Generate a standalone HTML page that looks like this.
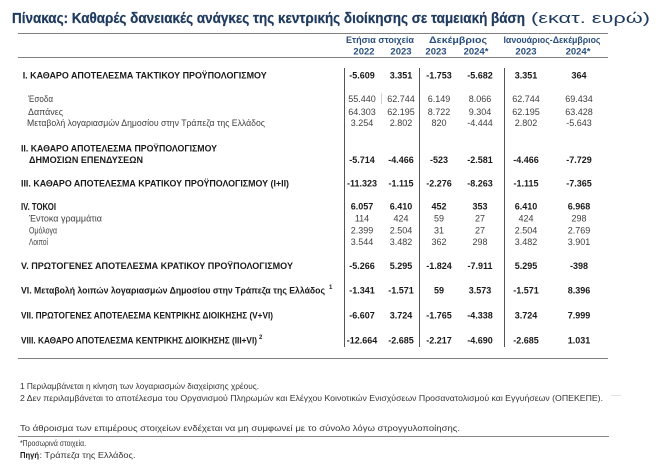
<!DOCTYPE html>
<html>
<head>
<meta charset="utf-8">
<style>
html,body{margin:0;padding:0;background:#fff;}
svg{display:block;}
</style>
</head>
<body>
<svg width="656" height="469" viewBox="0 0 656 469" xmlns="http://www.w3.org/2000/svg" font-family="'Liberation Sans', 'Noto Sans CJK SC', sans-serif">
<rect width="656" height="469" fill="#fff"/>

<!-- Title -->
<text x="12" y="23" font-size="14.5" font-weight="bold" fill="#1f3a5f" stroke="#1f3a5f" stroke-width="0.25" textLength="513" lengthAdjust="spacingAndGlyphs">Πίνακας: Καθαρές δανειακές ανάγκες της κεντρικής διοίκησης σε ταμειακή βάση</text>
<text x="531" y="23" font-size="14.5" fill="#1f3a5f" textLength="119" lengthAdjust="spacingAndGlyphs">(εκατ. ευρώ)</text>

<!-- Horizontal rules -->
<line x1="18" y1="33.5" x2="608" y2="33.5" stroke="#7f7f7f" stroke-width="1"/>
<line x1="18" y1="57.5" x2="608" y2="57.5" stroke="#7f7f7f" stroke-width="1"/>
<line x1="18" y1="358.5" x2="608" y2="358.5" stroke="#7f7f7f" stroke-width="1"/>

<!-- Header -->
<g font-size="9.5" font-weight="bold" fill="#2a4f7e" text-anchor="middle">
  <text x="380" y="43" textLength="68" lengthAdjust="spacingAndGlyphs">Ετήσια στοιχεία</text>
  <text x="458" y="43" textLength="58" lengthAdjust="spacingAndGlyphs">Δεκέμβριος</text>
  <text x="552" y="43" textLength="97" lengthAdjust="spacingAndGlyphs">Ιανουάριος-Δεκέμβριος</text>
  <text x="364" y="54.5">2022</text>
  <text x="401" y="54.5">2023</text>
  <text x="436" y="54.5">2023</text>
  <text x="476" y="54.5">2024*</text>
  <text x="526" y="54.5">2023</text>
  <text x="578" y="54.5">2024*</text>
</g>

<!-- Vertical separators -->
<line x1="344.5" y1="68" x2="344.5" y2="347" stroke="#555" stroke-width="1"/>
<line x1="419.5" y1="68" x2="419.5" y2="347" stroke="#555" stroke-width="1"/>
<line x1="504.5" y1="68" x2="504.5" y2="347" stroke="#555" stroke-width="1"/>
<line x1="381.5" y1="93" x2="381.5" y2="104" stroke="#d0d0d0" stroke-width="1"/>

<!-- Labels bold -->
<g font-size="9" font-weight="bold" fill="#1a1a1a">
  <text x="22.7" y="78.3" textLength="244" lengthAdjust="spacingAndGlyphs">I. ΚΑΘΑΡΟ ΑΠΟΤΕΛΕΣΜΑ  ΤΑΚΤΙΚΟΥ ΠΡΟΫΠΟΛΟΓΙΣΜΟΥ</text>
  <text x="21" y="151.5" textLength="196" lengthAdjust="spacingAndGlyphs">II. ΚΑΘΑΡΟ ΑΠΟΤΕΛΕΣΜΑ ΠΡΟΫΠΟΛΟΓΙΣΜΟΥ</text>
  <text x="29" y="163" textLength="114" lengthAdjust="spacingAndGlyphs">ΔΗΜΟΣΙΩΝ ΕΠΕΝΔΥΣΕΩΝ</text>
  <text x="21" y="186.5" textLength="268" lengthAdjust="spacingAndGlyphs">III. ΚΑΘΑΡΟ ΑΠΟΤΕΛΕΣΜΑ ΚΡΑΤΙΚΟΥ ΠΡΟΫΠΟΛΟΓΙΣΜΟΥ (I+II)</text>
  <text x="21" y="209.8" font-size="10" textLength="35" lengthAdjust="spacingAndGlyphs">IV. ΤΟΚΟΙ</text>
  <text x="21" y="269" textLength="272" lengthAdjust="spacingAndGlyphs">V. ΠΡΩΤΟΓΕΝΕΣ ΑΠΟΤΕΛΕΣΜΑ  ΚΡΑΤΙΚΟΥ ΠΡΟΫΠΟΛΟΓΙΣΜΟΥ</text>
  <text x="21" y="293.5" textLength="304" lengthAdjust="spacingAndGlyphs">VI. Μεταβολή λοιπών λογαριασμών Δημοσίου στην Τράπεζα της Ελλάδος</text>
  <text x="329" y="289" font-size="6">1</text>
  <text x="21" y="318.5" textLength="252" lengthAdjust="spacingAndGlyphs">VII. ΠΡΩΤΟΓΕΝΕΣ ΑΠΟΤΕΛΕΣΜΑ ΚΕΝΤΡΙΚΗΣ ΔΙΟΙΚΗΣΗΣ (V+VI)</text>
  <text x="21" y="343.5" textLength="236" lengthAdjust="spacingAndGlyphs">VIII. ΚΑΘΑΡΟ ΑΠΟΤΕΛΕΣΜΑ ΚΕΝΤΡΙΚΗΣ ΔΙΟΙΚΗΣΗΣ (III+VI)</text>
  <text x="259" y="339" font-size="6">2</text>
</g>

<!-- Labels normal -->
<g font-size="9" fill="#404040">
  <text x="28" y="102" textLength="25" lengthAdjust="spacingAndGlyphs">Έσοδα</text>
  <text x="28" y="115" textLength="35" lengthAdjust="spacingAndGlyphs">Δαπάνες</text>
  <text x="27" y="126" textLength="238" lengthAdjust="spacingAndGlyphs">Μεταβολή λογαριασμών Δημοσίου στην Τράπεζα της Ελλάδος</text>
  <text x="29" y="221.5" textLength="73" lengthAdjust="spacingAndGlyphs">Έντοκα γραμμάτια</text>
  <text x="29" y="233.5" textLength="28" lengthAdjust="spacingAndGlyphs">Ομόλογα</text>
  <text x="29" y="245" textLength="19" lengthAdjust="spacingAndGlyphs">Λοιποί</text>
</g>

<!-- Bold values -->
<g font-size="9" font-weight="bold" fill="#1a1a1a" text-anchor="middle">
  <text x="362" y="78.3">-5.609</text><text x="401" y="78.3">3.351</text><text x="439" y="78.3">-1.753</text><text x="480" y="78.3">-5.682</text><text x="526" y="78.3">3.351</text><text x="579" y="78.3">364</text>
  <text x="362" y="163">-5.714</text><text x="401" y="163">-4.466</text><text x="439" y="163">-523</text><text x="480" y="163">-2.581</text><text x="526" y="163">-4.466</text><text x="579" y="163">-7.729</text>
  <text x="362" y="186.5">-11.323</text><text x="401" y="186.5">-1.115</text><text x="439" y="186.5">-2.276</text><text x="480" y="186.5">-8.263</text><text x="526" y="186.5">-1.115</text><text x="579" y="186.5">-7.365</text>
  <text x="362" y="209.5">6.057</text><text x="401" y="209.5">6.410</text><text x="439" y="209.5">452</text><text x="480" y="209.5">353</text><text x="526" y="209.5">6.410</text><text x="579" y="209.5">6.968</text>
  <text x="362" y="269">-5.266</text><text x="401" y="269">5.295</text><text x="439" y="269">-1.824</text><text x="480" y="269">-7.911</text><text x="526" y="269">5.295</text><text x="579" y="269">-398</text>
  <text x="362" y="293.5">-1.341</text><text x="401" y="293.5">-1.571</text><text x="439" y="293.5">59</text><text x="480" y="293.5">3.573</text><text x="526" y="293.5">-1.571</text><text x="579" y="293.5">8.396</text>
  <text x="362" y="318.5">-6.607</text><text x="401" y="318.5">3.724</text><text x="439" y="318.5">-1.765</text><text x="480" y="318.5">-4.338</text><text x="526" y="318.5">3.724</text><text x="579" y="318.5">7.999</text>
  <text x="362" y="343.5">-12.664</text><text x="401" y="343.5">-2.685</text><text x="439" y="343.5">-2.217</text><text x="480" y="343.5">-4.690</text><text x="526" y="343.5">-2.685</text><text x="579" y="343.5">1.031</text>
</g>

<!-- Normal values -->
<g font-size="9" fill="#404040" text-anchor="middle">
  <text x="362" y="102">55.440</text><text x="401" y="102">62.744</text><text x="439" y="102">6.149</text><text x="480" y="102">8.066</text><text x="526" y="102">62.744</text><text x="579" y="102">69.434</text>
  <text x="362" y="115">64.303</text><text x="401" y="115">62.195</text><text x="439" y="115">8.722</text><text x="480" y="115">9.304</text><text x="526" y="115">62.195</text><text x="579" y="115">63.428</text>
  <text x="362" y="126">3.254</text><text x="401" y="126">2.802</text><text x="439" y="126">820</text><text x="480" y="126">-4.444</text><text x="526" y="126">2.802</text><text x="579" y="126">-5.643</text>
  <text x="362" y="221.5">114</text><text x="401" y="221.5">424</text><text x="439" y="221.5">59</text><text x="480" y="221.5">27</text><text x="526" y="221.5">424</text><text x="579" y="221.5">298</text>
  <text x="362" y="233.5">2.399</text><text x="401" y="233.5">2.504</text><text x="439" y="233.5">31</text><text x="480" y="233.5">27</text><text x="526" y="233.5">2.504</text><text x="579" y="233.5">2.769</text>
  <text x="362" y="245">3.544</text><text x="401" y="245">3.482</text><text x="439" y="245">362</text><text x="480" y="245">298</text><text x="526" y="245">3.482</text><text x="579" y="245">3.901</text>
</g>

<!-- Footnotes -->
<g font-size="8.5" fill="#333">
  <text x="20" y="389" textLength="239" lengthAdjust="spacingAndGlyphs">1 Περιλαμβάνεται η κίνηση των λογαριασμών διαχείρισης χρέους.</text>
  <text x="20" y="401" textLength="583" lengthAdjust="spacingAndGlyphs">2 Δεν περιλαμβάνεται το αποτέλεσμα του Οργανισμού Πληρωμών και Ελέγχου Κοινοτικών Ενισχύσεων Προσανατολισμού και Εγγυήσεων (ΟΠΕΚΕΠΕ).</text>
  <text x="20" y="431" textLength="440" lengthAdjust="spacingAndGlyphs">Το άθροισμα των επιμέρους στοιχείων ενδέχεται να μη συμφωνεί με το σύνολο λόγω στρογγυλοποίησης.</text>
  <text x="20" y="446" textLength="66" lengthAdjust="spacingAndGlyphs">*Προσωρινά στοιχεία.</text>
  <text x="20" y="458" font-weight="bold" fill="#1a1a1a" textLength="19" lengthAdjust="spacingAndGlyphs">Πηγή</text>
  <text x="39.5" y="458" textLength="96" lengthAdjust="spacingAndGlyphs">: Τράπεζα της Ελλάδος.</text>
</g>
<line x1="18" y1="436.5" x2="609" y2="436.5" stroke="#888" stroke-width="1"/>
<line x1="611" y1="395.5" x2="621" y2="395.5" stroke="#e0e0e0" stroke-width="1"/>
</svg>
</body>
</html>
